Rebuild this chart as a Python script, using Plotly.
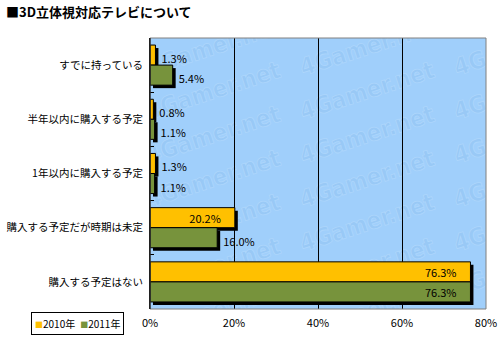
import base64
import plotly.graph_objects as go

# ---- data ----
categories = ["すでに持っている", "半年以内に購入する予定", "1年以内に購入する予定",
              "購入する予定だが時期は未定", "購入する予定はない"]
values_2010 = [1.3, 0.8, 1.3, 20.2, 76.3]
values_2011 = [5.4, 1.1, 1.1, 16.0, 76.3]
series_names = ["2010年", "2011年"]
x_ticks = [0, 20, 40, 60, 80]
x_tick_labels = ["0%", "20%", "40%", "60%", "80%"]
title_text = "■3D立体視対応テレビについて"

# ---- style ----
C2010 = "#FFC000"
C2011 = "#77933C"
BG = "#A0CFFB"
JP = "Noto Sans CJK JP"
BAR_W = 0.37
SH_X = 0.71   # shadow offset (x units, ~3px)
SH_Y = 0.055  # shadow offset (category units, ~3px)
INSIDE_MIN = 20

# plot area geometry (px)
W, H = 500, 339
ML, MR, MT, MB = 150, 14, 38, 30
PW, PH = W - ML - MR, H - MT - MB


def fmt(v):
    return f"{v:.1f}%"


fig = go.Figure()

for vals, color, off, name in [(values_2010, C2010, -BAR_W, series_names[0]),
                               (values_2011, C2011, 0.0, series_names[1])]:
    # shadow (carries the outside labels)
    fig.add_trace(go.Bar(
        y=categories, x=vals, base=[SH_X] * len(vals), orientation="h",
        offset=off + SH_Y, width=BAR_W,
        marker=dict(color="black", line=dict(width=0)),
        text=["" if v >= INSIDE_MIN else fmt(v) for v in vals],
        textposition="outside", constraintext="none",
        textfont=dict(family=JP, size=11, color="black"),
        showlegend=False, hoverinfo="skip", cliponaxis=False))
    # main bar (carries inside labels)
    fig.add_trace(go.Bar(
        y=categories, x=vals, orientation="h", name=name,
        offset=off, width=BAR_W,
        marker=dict(color=color, line=dict(color="black", width=1)),
        text=[fmt(v) + "\u3000" if v >= INSIDE_MIN else "" for v in vals],
        textposition="inside", insidetextanchor="end", constraintext="none",
        textfont=dict(family=JP, size=11, color="black"),
        showlegend=False))

# watermark background image (decoration)
wm = []
for cx in (-155, -1, 153, 307):
    for ry in range(-31, 300, 44):
        wm.append(
            f'<g transform="translate({cx} {ry + 25}) rotate(-18)">'
            f'<text x="0" y="0" font-family="DejaVu Sans Condensed, DejaVu Sans" '
            f'font-weight="bold" font-size="24" textLength="140" '
            f'fill="#99C9F6" stroke="#ADD6FC" stroke-width="0.8">4Gamer.net</text></g>')
svg = (f'<svg xmlns="http://www.w3.org/2000/svg" width="{PW}" height="{PH}" '
       f'viewBox="0 0 {PW} {PH}"><rect width="{PW}" height="{PH}" fill="{BG}"/>'
       + "".join(wm) + "</svg>")
src = "data:image/svg+xml;base64," + base64.b64encode(svg.encode()).decode()

fig.update_layout(
    width=W, height=H,
    margin=dict(l=ML, r=MR, t=MT, b=MB, pad=0, autoexpand=False),
    paper_bgcolor="white", plot_bgcolor=BG,
    barmode="overlay",
    font=dict(family=JP, size=11, color="black"),
    title=dict(text="<b>" + title_text + "</b>", x=6 / W, xanchor="left",
               xref="container", y=1 - 12 / H, yref="container", yanchor="middle",
               font=dict(family=JP, size=13, color="black")),
    images=[dict(source=src, xref="x domain", yref="y domain", x=0, y=1,
                 sizex=1, sizey=1, xanchor="left", yanchor="top",
                 sizing="stretch", layer="below")],
    xaxis=dict(range=[0, 80], tickvals=x_ticks, ticktext=x_tick_labels,
               showgrid=True, gridcolor="black", gridwidth=1, zeroline=False,
               showline=False, ticks="", ticklabelstandoff=6, automargin=False,
               tickfont=dict(family=JP, size=11), fixedrange=True),
    yaxis=dict(type="category", categoryorder="array", categoryarray=categories,
               range=[4.5, -0.5], showgrid=False, zeroline=False,
               showline=True, linecolor="black", linewidth=1,
               ticks="inside", tickson="boundaries", ticklen=4, tickcolor="black",
               ticklabelstandoff=4, automargin=False,
               tickfont=dict(family=JP, size=10.5), fixedrange=True),
    shapes=[dict(type="rect", xref="x domain", yref="y domain", x0=0, x1=1, y0=0, y1=1,
                 line=dict(color="#808080", width=1), layer="above"),
            dict(type="line", xref="x domain", yref="y domain", x0=0, x1=0, y0=0, y1=1,
                 line=dict(color="black", width=1), layer="above")],
    annotations=[dict(
        xref="paper", yref="paper",
        x=(77 - ML) / PW, y=-(323 - (H - MB)) / PH,
        xanchor="center", yanchor="middle", showarrow=False,
        text=(f"<span style='color:{C2010};font-size:8px'>■</span>{series_names[0]}"
              f"<span style='font-size:5px'>\u3000</span>"
              f"<span style='color:{C2011};font-size:8px'>■</span>{series_names[1]}"),
        font=dict(family=JP, size=10, color="black"),
        bgcolor="white", bordercolor="black", borderwidth=1, borderpad=3)],
)

fig.write_html("out.html")
